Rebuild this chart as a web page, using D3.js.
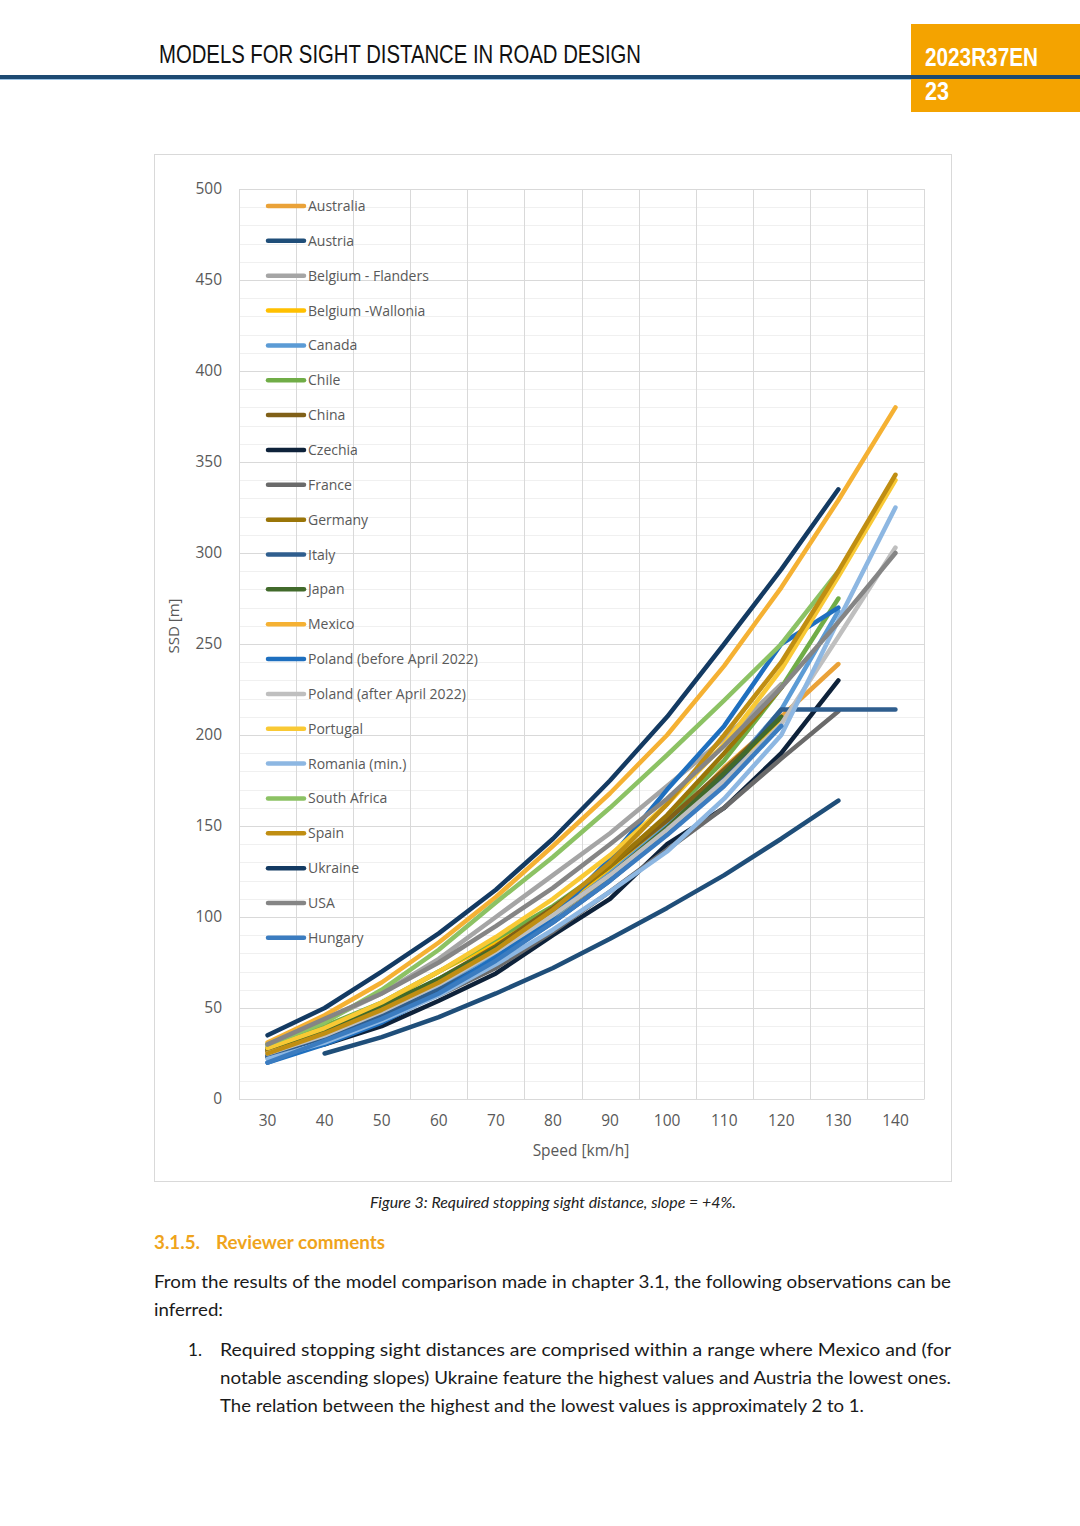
<!DOCTYPE html>
<html>
<head>
<meta charset="utf-8">
<script src="https://cdn.jsdelivr.net/npm/d3@7"></script>
<style>
  body { margin: 0; background: #fff; }
  svg { display: block; }
</style>
</head>
<body>
<div id="page"></div>
<script>
// speeds on the x axis (km/h)
const speeds = [30, 40, 50, 60, 70, 80, 90, 100, 110, 120, 130, 140];
const yTicks = [0, 50, 100, 150, 200, 250, 300, 350, 400, 450, 500];

// SSD [m] per country, null = no value
const australia = [26, 36, 48, 62, 78, 98, 122, 150, 182, 210, 239, null];
const austria = [null, 25, 34, 45, 58, 72, 88, 105, 123, 143, 164, null];
const belgiumFlanders = [29, 43, 58, 77, 100, 123, 146, 172, 198, 228, null, null];
const belgiumWallonia = [27, 38, 52, 70, 86, 104, 126, 150, 178, 208, null, null];
const canada = [24, 34, 46, 61, 79, 100, 124, 150, 178, 214, 268, null];
const chile = [30, 40, 53, 70, 88, 106, 128, 155, 186, 226, 275, null];
const china = [27, 37, 50, 66, 84, 105, 128, 153, 181, 210, null, null];
const czechia = [23, 30, 40, 54, 69, 90, 110, 140, 160, 190, 230, null];
const france = [27, 35, 45, 57, 72, 92, 114, 137, 160, 187, 213, null];
const germany = [26, 36, 48, 64, 82, 104, 128, 156, 190, 226, null, null];
const italy = [24, 34, 46, 60, 77, 97, 120, 146, 176, 214, 214, 214];
const japan = [28, 38, 51, 66, 83, 101, 123, 149, 179, 210, null, null];
const mexico = [31, 46, 64, 86, 111, 139, 168, 200, 238, 281, 329, 380];
const polandBefore = [20, 30, 42, 58, 78, 100, 132, 170, 205, 250, 270, null];
const polandAfter = [25, 35, 48, 63, 81, 101, 123, 148, 175, 206, 254, 303];
const portugal = [28, 39, 53, 70, 89, 110, 134, 162, 195, 236, 287, 340];
const romania = [22, 31, 43, 57, 74, 93, 114, 136, 165, 200, 263, 325];
const southAfrica = [30, 42, 60, 82, 108, 133, 160, 189, 219, 250, 290, null];
const spain = [25, 36, 49, 64, 82, 104, 130, 162, 200, 240, 290, 343];
const ukraine = [35, 50, 70, 91, 115, 143, 175, 210, 250, 291, 335, null];
const usa = [30, 44, 58, 75, 95, 116, 140, 165, 194, 226, 262, 300];
const hungary = [20, 32, 44, 58, 76, 97, 120, 145, 172, 205, null, null];

const series = [
  { name: "Australia", color: "#EAA238", values: australia },
  { name: "Austria", color: "#1F4E79", values: austria },
  { name: "Belgium - Flanders", color: "#A5A5A5", values: belgiumFlanders },
  { name: "Belgium -Wallonia", color: "#FFC000", values: belgiumWallonia },
  { name: "Canada", color: "#5B9BD5", values: canada },
  { name: "Chile", color: "#70AD47", values: chile },
  { name: "China", color: "#806018", values: china },
  { name: "Czechia", color: "#0E223A", values: czechia },
  { name: "France", color: "#6A6A6A", values: france },
  { name: "Germany", color: "#9A7508", values: germany },
  { name: "Italy", color: "#2F5E8E", values: italy },
  { name: "Japan", color: "#416A2B", values: japan },
  { name: "Mexico", color: "#F5B133", values: mexico },
  { name: "Poland (before April 2022)", color: "#1E6FBF", values: polandBefore },
  { name: "Poland (after April 2022)", color: "#BFBFBF", values: polandAfter },
  { name: "Portugal", color: "#F9C934", values: portugal },
  { name: "Romania (min.)", color: "#8DB7E2", values: romania },
  { name: "South Africa", color: "#8CC264", values: southAfrica },
  { name: "Spain", color: "#C08E12", values: spain },
  { name: "Ukraine", color: "#133A62", values: ukraine },
  { name: "USA", color: "#858585", values: usa },
  { name: "Hungary", color: "#3B7CC0", values: hungary }
];

const W = 1080, H = 1526;
const svg = d3.select("#page").append("svg").attr("width", W).attr("height", H);

// ---- page header ----
svg.append("rect").attr("x", 911).attr("y", 24).attr("width", 169).attr("height", 88).attr("fill", "#F4A300");
svg.append("rect").attr("x", 0).attr("y", 75).attr("width", W).attr("height", 4).attr("fill", "#1D4A72");
svg.append("rect").attr("x", 0).attr("y", 79).attr("width", 911).attr("height", 1).attr("fill", "#9CC3E5");

svg.append("text")
  .attr("x", 159).attr("y", 63)
  .attr("font-family", "'Liberation Sans Narrow', 'Liberation Sans', Arial, sans-serif")
  .attr("font-size", 26)
  .attr("textLength", 482).attr("lengthAdjust", "spacingAndGlyphs")
  .attr("fill", "#111")
  .text("MODELS FOR SIGHT DISTANCE IN ROAD DESIGN");

svg.append("text")
  .attr("x", 925).attr("y", 66)
  .attr("font-family", "'Liberation Sans Narrow', 'Liberation Sans', Arial, sans-serif")
  .attr("font-size", 26).attr("font-weight", "bold")
  .attr("textLength", 113).attr("lengthAdjust", "spacingAndGlyphs")
  .attr("fill", "#fff")
  .text("2023R37EN");

svg.append("text")
  .attr("x", 925).attr("y", 100)
  .attr("font-family", "'Liberation Sans Narrow', 'Liberation Sans', Arial, sans-serif")
  .attr("font-size", 26).attr("font-weight", "bold")
  .attr("textLength", 24).attr("lengthAdjust", "spacingAndGlyphs")
  .attr("fill", "#fff")
  .text("23");

// ---- chart frame ----
svg.append("rect")
  .attr("x", 154.5).attr("y", 154.5).attr("width", 797).attr("height", 1027)
  .attr("fill", "#fff").attr("stroke", "#D9D9D9").attr("stroke-width", 1);

const plot = { left: 239, right: 924, top: 189, bottom: 1099 };

const x = d3.scaleBand().domain(speeds).range([plot.left, plot.right]).padding(0);
const cx = (s) => x(s) + x.bandwidth() / 2;
const y = d3.scaleLinear().domain([0, 500]).range([plot.bottom, plot.top]);

const grid = svg.append("g");

// minor horizontal grid every 10
grid.selectAll(".minor")
  .data(d3.range(10, 500, 10).filter((v) => v % 50 !== 0))
  .join("line")
  .attr("x1", plot.left).attr("x2", plot.right)
  .attr("y1", (d) => Math.round(y(d)) + 0.5).attr("y2", (d) => Math.round(y(d)) + 0.5)
  .attr("stroke", "#F0F0F0").attr("stroke-width", 1);

// major horizontal grid
grid.selectAll(".major")
  .data(yTicks)
  .join("line")
  .attr("x1", plot.left).attr("x2", plot.right)
  .attr("y1", (d) => Math.round(y(d)) + 0.5).attr("y2", (d) => Math.round(y(d)) + 0.5)
  .attr("stroke", "#D9D9D9").attr("stroke-width", 1);

// vertical lines at category boundaries
grid.selectAll(".vline")
  .data(speeds.map((s) => x(s)).concat([plot.right]))
  .join("line")
  .attr("x1", (d) => Math.round(d) + 0.5).attr("x2", (d) => Math.round(d) + 0.5)
  .attr("y1", plot.top).attr("y2", plot.bottom)
  .attr("stroke", "#D9D9D9").attr("stroke-width", 1);

// ---- axes ----
const yAxis = svg.append("g")
  .attr("transform", `translate(${plot.left},0)`)
  .call(d3.axisLeft(y).tickValues(yTicks).tickSize(0).tickPadding(17));
yAxis.select(".domain").remove();
yAxis.selectAll("text")
  .attr("font-family", "'Open Sans', 'DejaVu Sans', sans-serif")
  .attr("font-size", 15.5).attr("fill", "#595959");

const xAxis = svg.append("g")
  .attr("transform", `translate(0,${plot.bottom})`)
  .call(d3.axisBottom(x).tickSize(0).tickPadding(16));
xAxis.select(".domain").attr("stroke", "#D9D9D9");
xAxis.selectAll("text")
  .attr("font-family", "'Open Sans', 'DejaVu Sans', sans-serif")
  .attr("font-size", 15.5).attr("fill", "#595959");

svg.append("text")
  .attr("x", 581).attr("y", 1156)
  .attr("text-anchor", "middle")
  .attr("font-family", "'Open Sans', 'DejaVu Sans', sans-serif")
  .attr("font-size", 15.5).attr("fill", "#595959")
  .text("Speed [km/h]");

svg.append("text")
  .attr("transform", "translate(179,626) rotate(-90)")
  .attr("text-anchor", "middle")
  .attr("font-family", "'Liberation Sans Narrow', 'Open Sans', sans-serif")
  .attr("font-size", 15).attr("fill", "#595959")
  .text("SSD [m]");

// ---- lines ----
const line = d3.line()
  .defined((d) => d.v != null)
  .x((d) => cx(d.s))
  .y((d) => y(d.v));

svg.append("g")
  .selectAll("path")
  .data(series)
  .join("path")
  .attr("fill", "none")
  .attr("stroke", (d) => d.color)
  .attr("stroke-width", 4.5)
  .attr("stroke-linejoin", "round")
  .attr("stroke-linecap", "round")
  .attr("d", (d) => line(speeds.map((s, i) => ({ s: s, v: d.values[i] }))));

// ---- legend ----
const legend = svg.append("g").attr("transform", "translate(268,206)");
const item = legend.selectAll("g")
  .data(series)
  .join("g")
  .attr("transform", (d, i) => `translate(0,${i * 34.85})`);
item.append("line")
  .attr("x1", 0).attr("x2", 36)
  .attr("stroke", (d) => d.color)
  .attr("stroke-width", 4.5)
  .attr("stroke-linecap", "round");
item.append("text")
  .attr("x", 40).attr("y", 5)
  .attr("font-family", "'Open Sans', 'DejaVu Sans', sans-serif")
  .attr("font-size", 14).attr("fill", "#595959")
  .text((d) => d.name);

// ---- caption and body text ----
const bodyFont = "Lato, 'Open Sans', sans-serif";

svg.append("text")
  .attr("x", 370).attr("y", 1208)
  .attr("font-family", bodyFont)
  .attr("font-style", "italic")
  .attr("font-size", 15)
  .attr("textLength", 366).attr("lengthAdjust", "spacingAndGlyphs")
  .attr("fill", "#222")
  .text("Figure 3: Required stopping sight distance, slope = +4%.");

const heading = svg.append("g")
  .attr("font-family", bodyFont)
  .attr("font-weight", "bold")
  .attr("font-size", 18)
  .attr("fill", "#EFA41C");
heading.append("text").attr("x", 154).attr("y", 1249)
  .attr("textLength", 46).attr("lengthAdjust", "spacingAndGlyphs").text("3.1.5.");
heading.append("text").attr("x", 216).attr("y", 1249)
  .attr("textLength", 169).attr("lengthAdjust", "spacingAndGlyphs").text("Reviewer comments");

const body = [
  { x: 154, y: 1288, w: 797, t: "From the results of the model comparison made in chapter 3.1, the following observations can be" },
  { x: 154, y: 1316, w: 69, t: "inferred:" },
  { x: 188, y: 1356, w: 14, t: "1." },
  { x: 220, y: 1356, w: 731, t: "Required stopping sight distances are comprised within a range where Mexico and (for" },
  { x: 220, y: 1384, w: 731, t: "notable ascending slopes) Ukraine feature the highest values and Austria the lowest ones." },
  { x: 220, y: 1412, w: 644, t: "The relation between the highest and the lowest values is approximately 2 to 1." }
];

svg.append("g")
  .selectAll("text")
  .data(body)
  .join("text")
  .attr("x", (d) => d.x).attr("y", (d) => d.y)
  .attr("font-family", bodyFont)
  .attr("font-size", 18)
  .attr("fill", "#1a1a1a")
  .attr("textLength", (d) => d.w).attr("lengthAdjust", "spacingAndGlyphs")
  .text((d) => d.t);
</script>
</body>
</html>
